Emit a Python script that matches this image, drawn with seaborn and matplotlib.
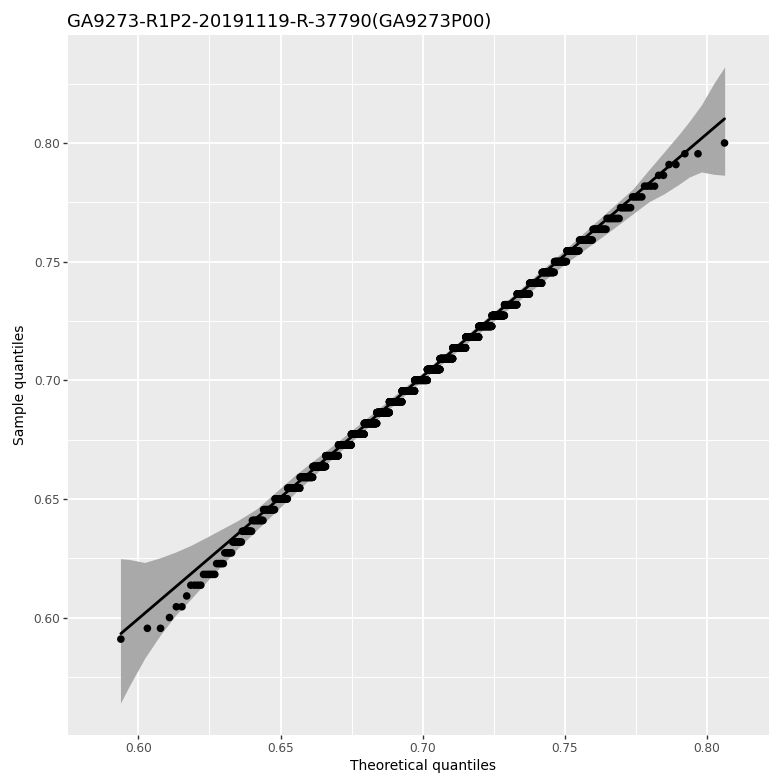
import numpy as np
import pandas as pd
import matplotlib
matplotlib.use("Agg")
import matplotlib.pyplot as plt
import seaborn as sns
from statistics import NormalDist

# ---------------- data ----------------
title = "GA9273-R1P2-20191119-R-37790(GA9273P00)"
x_label = "Theoretical quantiles"
y_label = "Sample quantiles"

# discrete sample values (stair levels) and how many observations sit on each
sample_levels = [0.590909, 0.595455, 0.600000, 0.604545, 0.609091, 0.613636,
                 0.618182, 0.622727, 0.627273, 0.631818, 0.636364, 0.640909,
                 0.645455, 0.650000, 0.654545, 0.659091, 0.663636, 0.668182,
                 0.672727, 0.677273, 0.681818, 0.686364, 0.690909, 0.695455,
                 0.700000, 0.704545, 0.709091, 0.713636, 0.718182, 0.722727,
                 0.727273, 0.731818, 0.736364, 0.740909, 0.745455, 0.750000,
                 0.754545, 0.759091, 0.763636, 0.768182, 0.772727, 0.777273,
                 0.781818, 0.786364, 0.790909, 0.795455, 0.800000]
level_counts = [1, 2, 1, 2, 1, 4, 6, 5, 6,
                9, 12, 17, 22, 31, 38, 48, 58, 68, 79, 90, 96, 104, 111, 115,
                116, 116, 113, 109, 102, 93, 79, 69, 59, 49, 40, 32, 26, 21,
                16, 11,
                7, 5, 4, 2, 2, 2, 1]

# parameters of the theoretical normal distribution
theo_mean = 0.70
theo_sd = 0.0305

# confidence band edges
band_x = [0.5937, 0.5967, 0.6022, 0.6077, 0.6131, 0.6186, 0.6241, 0.6350,
          0.6416, 0.6550, 0.6700, 0.7000, 0.7300, 0.7500, 0.7650, 0.7740,
          0.7794, 0.7849, 0.7904, 0.7937, 0.7980, 0.8024, 0.8062]
band_hi = [0.6248, 0.6245, 0.6232, 0.6252, 0.6276, 0.6305, 0.6339, 0.6409,
           0.6458, 0.6599, 0.6740, 0.7032, 0.7339, 0.7550, 0.7711, 0.7807,
           0.7885, 0.7962, 0.8040, 0.8090, 0.8160, 0.8251, 0.8321]
band_lo = [0.5639, 0.5709, 0.5828, 0.5926, 0.6010, 0.6080, 0.6153, 0.6292,
           0.6369, 0.6524, 0.6690, 0.7002, 0.7299, 0.7490, 0.7621, 0.7702,
           0.7751, 0.7786, 0.7828, 0.7856, 0.7878, 0.7868, 0.7864]

x_ticks = [0.60, 0.65, 0.70, 0.75, 0.80]
y_ticks = [0.60, 0.65, 0.70, 0.75, 0.80]
x_tick_labels = ["0.60", "0.65", "0.70", "0.75", "0.80"]
y_tick_labels = ["0.60", "0.65", "0.70", "0.75", "0.80"]

# ---------------- qq statistics ----------------
sample = np.sort(np.repeat(sample_levels, level_counts))
n = len(sample)
dist = NormalDist(theo_mean, theo_sd)
probs = (np.arange(1, n + 1) - 0.5) / n
theo = np.array([dist.inv_cdf(p) for p in probs])
df = pd.DataFrame({"theoretical": theo, "sample": sample})

q_s = np.quantile(sample, [0.25, 0.75])
q_t = np.array([dist.inv_cdf(0.25), dist.inv_cdf(0.75)])
slope = (q_s[1] - q_s[0]) / (q_t[1] - q_t[0])
intercept = q_s[0] - slope * q_t[0]
line_df = pd.DataFrame({"theoretical": [theo.min(), theo.max()]})
line_df["sample"] = intercept + slope * line_df["theoretical"]

band_df = pd.DataFrame({"x": band_x, "lo": band_lo, "hi": band_hi})

# ---------------- style ----------------
sns.set_style("darkgrid", {
    "axes.facecolor": "#EBEBEB",
    "grid.color": "white",
    "axes.edgecolor": "#EBEBEB",
})
plt.rcParams["font.family"] = ["DejaVu Sans"]

W, H = 769, 776
fig = plt.figure(figsize=(W / 100, H / 100), dpi=100)
fig.patch.set_facecolor("white")
ax = fig.add_axes([67.3 / W, 41 / H, 710.8 / W, 700 / H])

ax.fill_between(band_df["x"], band_df["lo"], band_df["hi"],
                color="#A9A9A9", linewidth=0, zorder=2)
sns.scatterplot(data=df, x="theoretical", y="sample", ax=ax, color="black",
                s=30, linewidth=0, edgecolor="none", zorder=3, legend=False)
sns.lineplot(data=line_df, x="theoretical", y="sample", ax=ax, color="black",
             linewidth=2.0, zorder=4)

# limits with ggplot-like 5% expansion
xs = np.concatenate([theo, band_x])
ys = np.concatenate([sample, band_lo, band_hi])
xr = xs.max() - xs.min()
yr = ys.max() - ys.min()
ax.set_xlim(xs.min() - 0.05 * xr, xs.max() + 0.05 * xr)
ax.set_ylim(ys.min() - 0.05 * yr, ys.max() + 0.05 * yr)

ax.set_xticks(x_ticks)
ax.set_xticklabels(x_tick_labels)
ax.set_yticks(y_ticks)
ax.set_yticklabels(y_tick_labels)
minor_x = [(a + b) / 2 for a, b in zip([x_ticks[0] - 0.05] + x_ticks, x_ticks + [x_ticks[-1] + 0.05])]
minor_y = [(a + b) / 2 for a, b in zip([y_ticks[0] - 0.05] + y_ticks, y_ticks + [y_ticks[-1] + 0.05])]
ax.set_xticks(minor_x, minor=True)
ax.set_yticks(minor_y, minor=True)
ax.grid(which="major", color="white", linewidth=1.35)
ax.grid(which="minor", color="white", linewidth=0.7)
ax.tick_params(axis="both", which="major", length=2.7, width=1.0,
               color="#333333", labelcolor="#4D4D4D", labelsize=8.7, pad=2.2,
               bottom=True, left=True)
ax.tick_params(axis="both", which="minor", length=0, bottom=False, left=False)
for sp in ax.spines.values():
    sp.set_visible(False)

ax.set_xlabel(x_label, fontsize=10, color="black", labelpad=3)
ax.set_ylabel(y_label, fontsize=10, color="black", labelpad=5)
ax.set_title(title, loc="left", fontsize=13, color="black", pad=6)

fig.savefig("out.png", dpi=100)
